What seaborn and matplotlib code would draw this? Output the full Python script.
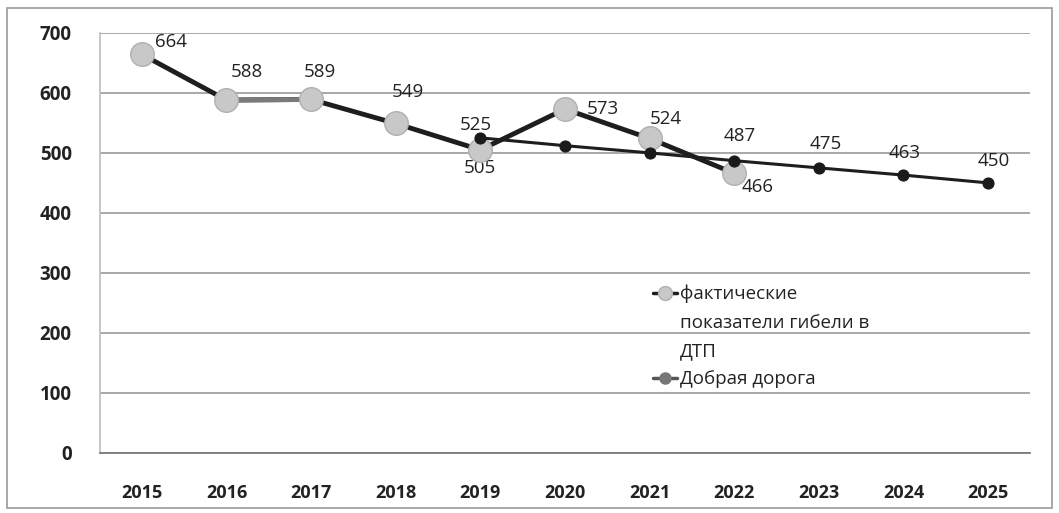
import pandas as pd
import seaborn as sns
import matplotlib.pyplot as plt
from matplotlib.lines import Line2D
from matplotlib.patches import Rectangle

# Данные
years = [2015, 2016, 2017, 2018, 2019, 2020, 2021, 2022, 2023, 2024, 2025]
fact_years = [2015, 2016, 2017, 2018, 2019, 2020, 2021, 2022]
fact_values = [664, 588, 589, 549, 505, 573, 524, 466]
plan_years = [2019, 2020, 2021, 2022, 2023, 2024, 2025]
plan_values = [525, 512, 500, 487, 475, 463, 450]
plan_labels = ['525', '', '', '487', '475', '463', '450']

fact_name = ['фактические', 'показатели гибели в', 'ДТП']
plan_name = 'Добрая дорога'

sns.set_theme(style="white")
plt.rcParams['font.family'] = ['Open Sans', 'DejaVu Sans']

fig = plt.figure(figsize=(10.59, 5.13), dpi=100)
ax = fig.add_axes([0.094, 0.117, 0.879, 0.819])

# Рамка вокруг всей диаграммы
fig.patches.append(Rectangle((0.007, 0.01), 0.986, 0.975, transform=fig.transFigure,
                             fill=False, edgecolor='#9a9a9a', linewidth=1.2))

df_fact = pd.DataFrame({'year': fact_years, 'value': fact_values})
df_plan = pd.DataFrame({'year': plan_years, 'value': plan_values})

sns.lineplot(data=df_fact, x='year', y='value', ax=ax, color='#1e1e1e', linewidth=3.5,
             legend=False, zorder=3)
# на скане отрезок 2016-2017 светлее
sns.lineplot(data=df_fact[df_fact['year'].isin([2016, 2017])], x='year', y='value', ax=ax,
             color='#7a7a7a', linewidth=3.5, legend=False, zorder=3.1)
sns.lineplot(data=df_fact, x='year', y='value', ax=ax, linestyle='none',
             marker='o', markersize=17, markerfacecolor='#c8c8c8',
             markeredgecolor='#b0b0b0', markeredgewidth=1, legend=False, zorder=3.2)
sns.lineplot(data=df_plan, x='year', y='value', ax=ax, color='#1e1e1e', linewidth=2.2,
             marker='o', markersize=8, markerfacecolor='#1a1a1a',
             markeredgecolor='#1a1a1a', legend=False, zorder=4)

# Подписи данных (смещения в пунктах)
fact_offsets = [(21, 9), (15, 20), (6, 20), (9, 23), (0, -13), (27, 0), (12, 14), (17, -10)]
for x, y, off in zip(fact_years, fact_values, fact_offsets):
    ax.annotate(str(y), (x, y), xytext=off, textcoords='offset points',
                ha='center', va='center', fontsize=13.5, color='#222222')
plan_offsets = [(-3, 9), None, None, (4, 18), (5, 17), (1, 16), (4, 16)]
for x, y, lab, off in zip(plan_years, plan_values, plan_labels, plan_offsets):
    if lab:
        ax.annotate(lab, (x, y), xytext=off, textcoords='offset points',
                    ha='center', va='center', fontsize=13.5, color='#222222')

ax.set_xlim(2014.5, 2025.5)
ax.set_ylim(0, 700)
ax.set_yticks(range(0, 701, 100))
ax.set_xticks(years)
ax.set_xticks([y + 0.5 for y in [2014] + years], minor=True)
ax.tick_params(axis='x', which='major', length=0, pad=22, labelsize=13)
ax.tick_params(axis='x', which='minor', length=5, color='#777777', direction='out')
ax.tick_params(axis='y', length=0, pad=20, labelsize=13.5)
for lab in ax.get_xticklabels() + ax.get_yticklabels():
    lab.set_fontweight('bold')
    lab.set_color('#222222')
ax.set_xlabel('')
ax.set_ylabel('')

ax.grid(axis='y', color='#a8a8a8', linewidth=1.4)
ax.set_axisbelow(True)
for side in ['top', 'right']:
    ax.spines[side].set_visible(False)
ax.spines['left'].set_color('#c0c0c0')
ax.spines['bottom'].set_color('#777777')

# Легенда: маркер у первой строки, перенос подписи как в Excel
fact_handle = Line2D([], [], color='#1e1e1e', linewidth=2.5, marker='o', markersize=10,
                     markerfacecolor='#c8c8c8', markeredgecolor='#b0b0b0')
plan_handle = Line2D([], [], color='#555555', linewidth=2.5, marker='o', markersize=8,
                     markerfacecolor='#777777', markeredgecolor='#777777')
blank = Line2D([], [], linestyle='none')
leg = ax.legend([fact_handle, blank, blank, plan_handle],
                fact_name + [plan_name],
                loc='upper left', bbox_to_anchor=(0.576, 0.44), frameon=False,
                fontsize=13.5, handlelength=1.3, handletextpad=0.15, labelspacing=0.55)
for t in leg.get_texts():
    t.set_color('#222222')

plt.savefig('out.png', dpi=100)
plt.close()
